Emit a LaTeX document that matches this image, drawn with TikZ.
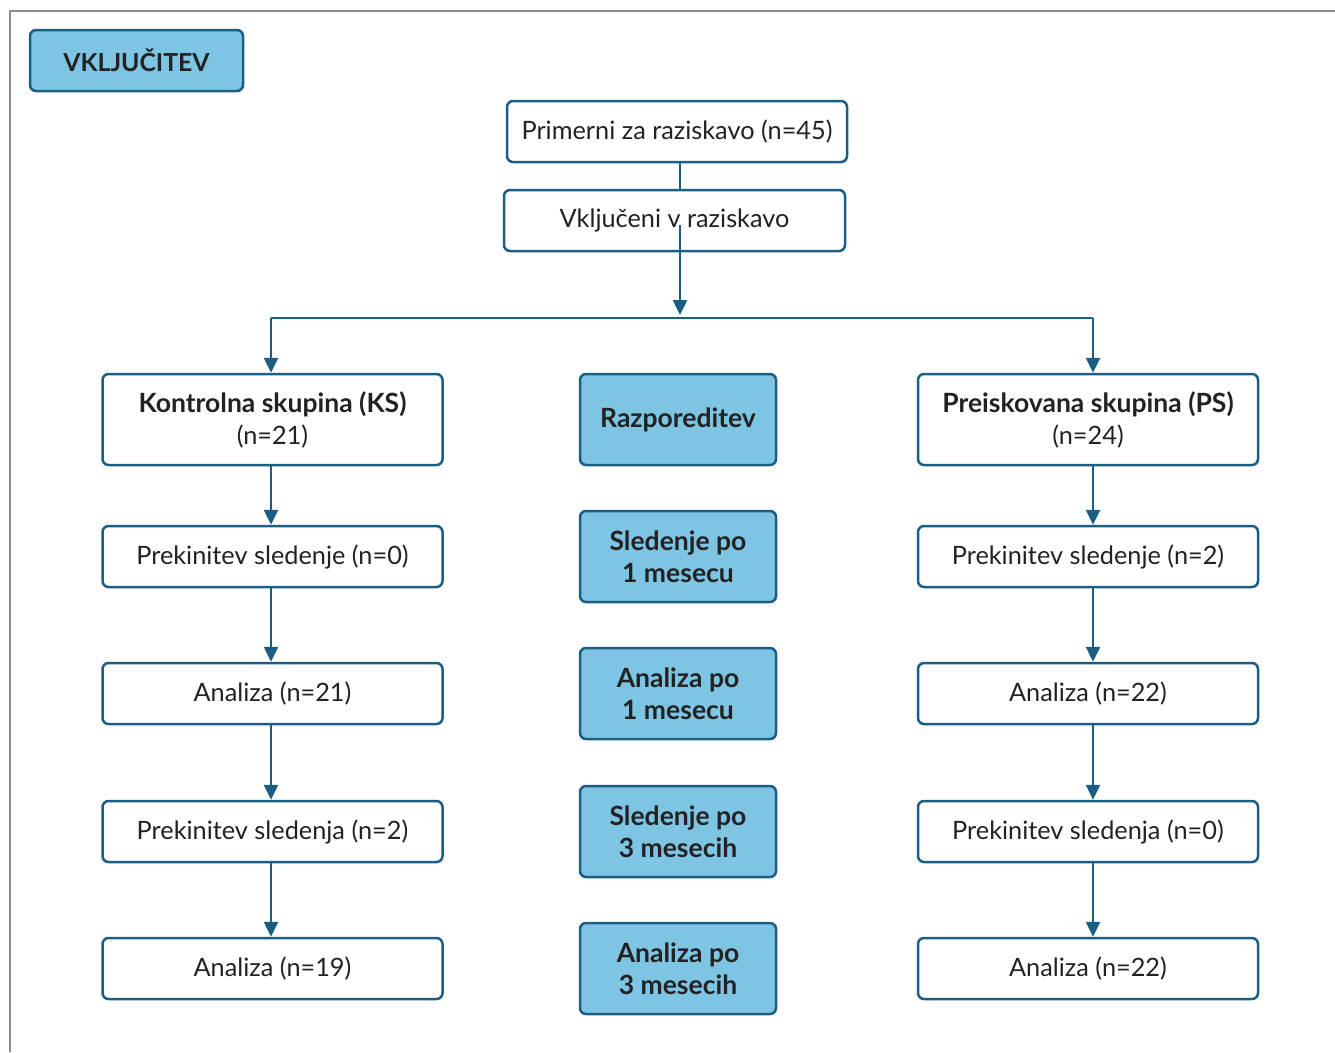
\documentclass[tikz,border=0pt]{standalone}
\usepackage{fontspec}
\setmainfont{Lato}
\usetikzlibrary{arrows.meta,calc}
\definecolor{lineblue}{HTML}{1B5E83}
\definecolor{fillblue}{HTML}{7EC4E3}
\definecolor{txt}{HTML}{222222}
\definecolor{framegray}{HTML}{8C8C8C}
\newcommand{\bfbig}{\fontsize{26.5}{32}\selectfont\bfseries}
\begin{document}
\begin{tikzpicture}[x=1pt,y=-1pt,
  base/.style={draw=lineblue,line width=2.5pt,rounded corners=6pt,align=center,
    text=txt,font=\fontsize{25.3}{32}\selectfont,inner sep=0pt},
  whitebox/.style={base,fill=white,minimum width=340pt,minimum height=61pt},
  groupbox/.style={base,fill=white,minimum width=340pt,minimum height=91pt},
  phasebox/.style={base,fill=fillblue,minimum width=196pt,minimum height=91pt,
    font=\bfbig},
  conn/.style={draw=lineblue,line width=2.5pt},
  arr/.style={conn,-{Triangle[length=15pt,width=14pt]}}]
\useasboundingbox (0,0) rectangle (1335,1052);
\draw[framegray,line width=2pt] (10,1052) -- (10,11) -- (1335,11);

\node[base,fill=fillblue,minimum width=213pt,minimum height=61pt,
  font=\fontsize{24.8}{32}\selectfont\bfseries] (vk) at (136.5,60.5) {VKLJUČITEV};

\node[whitebox] (prim) at (677,131.5) {Primerni za raziskavo (n=45)};
\node[whitebox,minimum width=341pt] (vklj) at (674.5,220.5) {Vključeni v raziskavo};

\node[groupbox] (ks) at (272.5,419.5) {{\bfbig Kontrolna skupina (KS)}\\(n=21)};
\node[phasebox] (raz) at (678,419.5) {Razporeditev};
\node[groupbox] (ps) at (1088,419.5) {{\bfbig Preiskovana skupina (PS)}\\(n=24)};

\node[whitebox] (l1) at (272.5,556.5) {Prekinitev sledenje (n=0)};
\node[phasebox] (c1) at (678,556.5) {Sledenje po\\1 mesecu};
\node[whitebox] (r1) at (1088,556.5) {Prekinitev sledenje (n=2)};

\node[whitebox] (l2) at (272.5,693.5) {Analiza (n=21)};
\node[phasebox] (c2) at (678,693.5) {Analiza po\\1 mesecu};
\node[whitebox] (r2) at (1088,693.5) {Analiza (n=22)};

\node[whitebox] (l3) at (272.5,831.5) {Prekinitev sledenja (n=2)};
\node[phasebox] (c3) at (678,831.5) {Sledenje po\\3 mesecih};
\node[whitebox] (r3) at (1088,831.5) {Prekinitev sledenja (n=0)};

\node[whitebox] (l4) at (272.5,968.5) {Analiza (n=19)};
\node[phasebox] (c4) at (678,968.5) {Analiza po\\3 mesecih};
\node[whitebox] (r4) at (1088,968.5) {Analiza (n=22)};

% connectors
\coordinate (mx) at (680,0);
\coordinate (lx) at (271,0);
\coordinate (rx) at (1093,0);
\coordinate (split) at (680,318);
\coordinate (vin) at (680,225);
\draw[conn] (prim.south -| mx) -- (vklj.north -| mx);
\draw[arr] (vin) -- ($(split)+(0,-3)$);
\draw[conn] (split -| lx) -- (split -| rx);
\draw[arr] (split -| lx) -- (ks.north -| lx);
\draw[arr] (split -| rx) -- (ps.north -| rx);

\draw[arr] (ks.south -| lx) -- (l1.north -| lx);
\draw[arr] (l1.south -| lx) -- (l2.north -| lx);
\draw[arr] (l2.south -| lx) -- (l3.north -| lx);
\draw[arr] (l3.south -| lx) -- (l4.north -| lx);

\draw[arr] (ps.south -| rx) -- (r1.north -| rx);
\draw[arr] (r1.south -| rx) -- (r2.north -| rx);
\draw[arr] (r2.south -| rx) -- (r3.north -| rx);
\draw[arr] (r3.south -| rx) -- (r4.north -| rx);
\end{tikzpicture}
\end{document}
